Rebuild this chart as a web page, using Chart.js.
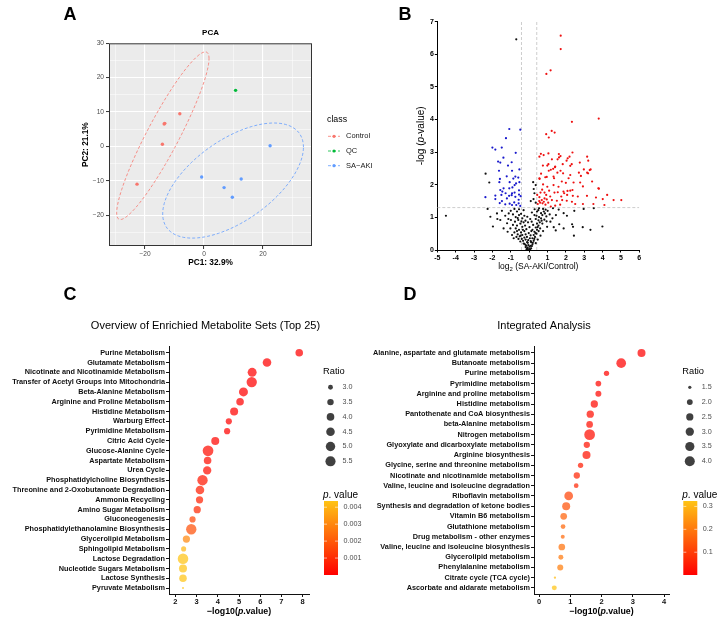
<!DOCTYPE html>
<html>
<head>
<meta charset="utf-8">
<script src="https://cdn.jsdelivr.net/npm/chart.js@4.4.1/dist/chart.umd.min.js"></script>
<style>
  html, body { margin: 0; padding: 0; background: #fff; }
  body { width: 725px; height: 624px; position: relative; overflow: hidden; }
  canvas { position: absolute; }
</style>
</head>
<body>
<canvas id="pca" width="390" height="275" style="left:0;top:0"></canvas>
<canvas id="volcano" width="335" height="275" style="left:390px;top:0"></canvas>
<canvas id="msea" width="372" height="344" style="left:0;top:280px"></canvas>
<canvas id="integ" width="357" height="344" style="left:368px;top:280px"></canvas>
<script>
// -------------------------------
// Data
// -------------------------------

// A: PCA scores
const controlX = [-22.7, -14.1, -13.5, -13.3, -8.2];
const controlY = [-11.0, 0.6, 6.5, 6.7, 9.5];
const qcX = [10.7];
const qcY = [16.3];
const sakiX = [-0.8, 6.8, 9.6, 12.6, 22.4];
const sakiY = [-8.9, -12.0, -14.8, -9.5, 0.2];
// ellipse: centre x, centre y, half range x, half range y, tilt
const controlEllipse = [-13.95, 3.1, 15.65, 24.4, 0.92];
const sakiEllipse = [9.85, -9.95, 23.85, 16.75, 0.58];
const pcaClasses = ["Control", "QC", "SA\u2212AKI"];
const pcaXGrid = [-30, -20, -10, 0, 10, 20, 30];
const pcaXLabels = [-20, 0, 20];
const pcaYGrid = [-25, -20, -15, -10, -5, 0, 5, 10, 15, 20, 25, 30];
const pcaYLabels = [-20, -10, 0, 10, 20, 30];

// B: volcano
const upX = [1.72, 1.72, 1.17, 0.94, 2.33, 3.79, 1.23, 1.39, 0.93, 1.07,
  0.64, 0.56, 1.05, 1.62, 1.71, 2.36, 3.16, 2.20, 2.04, 1.24, 2.76, 3.22,
  0.75, 1.05, 1.42, 1.31, 1.07, 1.54, 1.71, 2.24, 1.85, 2.24, 2.98, 3.30, 3.16, 2.71, 3.43, 2.78, 0.65, 0.56, 0.96, 1.33, 1.78, 2.00, 2.42, 2.82,
  0.76, 0.99, 1.33, 1.60, 1.87, 2.09, 2.24, 2.36, 0.71, 0.84, 1.09, 1.38, 1.56, 3.80, 4.25, 4.01, 4.60, 5.02, 3.64, 3.15, 2.65, 2.38, 1.91,
  0.44, 0.56, 0.69, 0.80, 0.96, 0.60, 0.73, 0.89, 1.04, 1.24, 1.51, 1.80, 2.05, 2.33, 2.51, 2.93, 3.50, 4.10, 1.18, 1.42, 1.69, 0.47, 0.55, 0.84, 1.15, 2.07, 1.75, 0.93, 0.62,
  0.79, 1.63, 1.55, 2.10, 1.83, 2.32, 0.99, 1.41, 1.18, 3.35, 3.21, 0.88, 1.36, 2.15, 0.57, 2.93, 3.77];
const upY = [6.57, 6.16, 5.51, 5.40, 3.93, 4.03, 3.65, 3.60, 3.55, 3.45,
  2.95, 2.86, 2.96, 2.94, 2.88, 2.99, 2.86, 2.86, 2.74, 2.78, 2.68, 2.74,
  2.59, 2.63, 2.56, 2.49, 2.43, 2.37, 2.43, 2.58, 2.35, 2.30, 2.47, 2.45, 2.37, 2.37, 2.10, 2.07, 2.34, 2.20, 2.24, 2.25, 2.10, 2.06, 2.07, 2.27,
  2.01, 1.94, 1.99, 1.94, 1.79, 1.81, 1.82, 1.84, 1.85, 1.76, 1.82, 1.76, 1.77, 1.88, 1.69, 1.56, 1.53, 1.53, 1.61, 1.66, 1.64, 1.66, 1.74,
  1.69, 1.62, 1.53, 1.48, 1.55, 1.45, 1.43, 1.39, 1.45, 1.53, 1.51, 1.53, 1.51, 1.48, 1.41, 1.41, 1.41, 1.38, 1.33, 1.36, 1.39, 1.41, 1.50, 1.58, 1.64, 1.69, 1.64, 1.69, 1.76,
  2.91, 2.84, 2.78, 2.81, 2.63, 2.63, 2.59, 2.54, 2.46, 2.47, 2.35, 2.23, 2.20, 2.20, 2.18, 1.95, 1.89];
const downX = [-1.08, -0.48, -1.26, -2.00, -1.84, -1.49, -0.73, -1.40, -1.69, -1.57, -0.95, -1.15, -0.93, -0.53, -1.64,
  -0.59, -0.75, -0.86, -1.22, -1.59, -1.62, -1.06, -0.71, -0.53, -0.91, -1.08, -0.79, -1.39, -1.46, -1.28, -0.93,
  -0.55, -0.79, -1.57, -1.84, -2.38, -1.51, -1.09, -0.95, -0.75, -0.55, -0.46, -1.84, -1.48, -1.21, -0.81, -0.70,
  -0.57, -0.93, -1.30, -0.48, -1.06, -1.60, -0.57];
const downY = [3.71, 3.69, 3.43, 3.14, 3.08, 3.14, 2.98, 2.83, 2.71, 2.68, 2.69, 2.59, 2.43, 2.47, 2.43,
  2.22, 2.25, 2.19, 2.26, 2.18, 2.08, 2.08, 2.04, 2.08, 1.92, 1.89, 1.99, 1.89, 1.79, 1.74, 1.74,
  1.83, 1.76, 1.84, 1.67, 1.62, 1.69, 1.66, 1.68, 1.63, 1.70, 1.65, 1.56, 1.50, 1.58, 1.46, 1.38,
  1.43, 1.38, 1.40, 1.35, 1.42, 1.44, 1.54];
const nsX = [-0.70, -2.37, -2.17, 0.22, 0.29, 0.24, 0.36, 0.09, 0.36, 0.25,
  -4.53, -2.26, -1.73, -1.97, -1.57, -1.13, -2.11,
  -0.80, -0.66, -0.88, -0.55, -0.73, -0.44, -0.99, -0.77, -0.59, -0.37, -0.26, -0.88, -0.66, -0.48, -0.30, -0.73, -0.55, -0.37, -0.22, -0.80, -0.62,
  -0.44, -0.26, -0.69, -0.51, -0.37, -0.19, -0.58, -0.40, -0.26, -0.48, -0.33, -0.19, -0.26, -0.11, -0.15, -0.08, 0.00, -0.11, -0.19, -0.04, -0.08,
  -1.11, -1.20, -1.39, -1.02, -0.93, -1.17, -1.30, -1.48, -1.75,
  0.11, 0.07, 0.18, 0.11, 0.25, 0.18, 0.32, 0.25, 0.40, 0.29, 0.43, 0.36, 0.51, 0.43, 0.58, 0.51, 0.65, 0.54, 0.72, 0.65, 0.80, 0.90, 0.76, 1.01,
  1.12, 0.94, 0.83, 0.72, 0.18, 0.22, 0.14, 0.36, 0.29, 0.43, 0.54, 1.16, 1.27, 0.98, 0.76, 0.62, 0.47, 0.36,
  1.46, 1.88, 1.64, 1.34, 2.34, 2.39, 2.44, 2.92, 3.34, 3.99, 2.46, 2.06, 1.61, 1.30, 1.88, 1.45, 2.97, 3.52,
  -0.12, -0.05, 0.04, 0.08, -0.02, 0.12, -0.15, 0.02, -0.06, 0.06, -0.10, 0.15, -0.30, -0.55, -0.62, -0.42, -0.34, -0.46, -0.30, -0.20, 0.03,
  0.15, 0.20, 0.28, 0.34, 0.46, 0.52, 0.60, 0.68, 0.86, 0.95, 0.40, 0.50, 0.30, -0.20, -0.66, -0.84, -1.00, -0.14, 0.05, 0.09, -0.07];
const nsY = [6.46, 2.34, 2.07, 2.08, 1.74, 1.56, 1.45, 1.50, 1.99, 1.87,
  1.05, 1.26, 0.95, 0.72, 0.92, 0.95, 1.02,
  1.26, 1.18, 1.09, 1.07, 1.01, 1.11, 0.92, 0.87, 0.92, 0.97, 1.05, 0.77, 0.75, 0.81, 0.85, 0.66, 0.62, 0.71, 0.75, 0.54, 0.48,
  0.54, 0.58, 0.40, 0.42, 0.46, 0.48, 0.34, 0.34, 0.38, 0.26, 0.28, 0.32, 0.19, 0.24, 0.13, 0.07, 0.03, 0.05, 0.09, 0.15, 0.01,
  1.12, 0.82, 0.66, 0.66, 0.46, 0.56, 1.05, 1.20, 1.12,
  0.05, 0.13, 0.17, 0.24, 0.28, 0.36, 0.40, 0.46, 0.50, 0.56, 0.62, 0.69, 0.75, 0.81, 0.85, 0.91, 0.97, 1.01, 1.07, 1.13, 1.18, 1.24, 1.26, 1.20,
  1.09, 1.03, 0.93, 0.81, 0.62, 0.77, 0.87, 0.95, 1.07, 1.18, 1.28, 0.87, 0.97, 0.71, 0.58, 0.44, 0.32, 0.21,
  1.07, 1.13, 0.79, 0.70, 0.79, 0.71, 0.44, 0.70, 0.62, 0.72, 1.20, 1.05, 1.24, 1.28, 0.66, 0.60, 1.26, 1.28,
  0.40, 0.30, 0.36, 0.45, 0.52, 0.58, 0.64, 0.70, 0.85, 0.95, 1.02, 1.15, 1.22, 1.25, 0.98, 0.88, 0.62, 0.44, 0.20, 0.16, 0.10,
  0.12, 0.22, 0.34, 0.52, 0.70, 0.58, 0.66, 0.90, 1.12, 0.88, 1.05, 1.22, 1.25, 0.90, 0.58, 0.36, 1.20, 0.02, 0.02, 0.27, 0.22];
const fcCut = [-0.415, 0.415];
const pCut = 1.301;
const volXTicks = [-5, -4, -3, -2, -1, 0, 1, 2, 3, 4, 5, 6];
const volYTicks = [0, 1, 2, 3, 4, 5, 6, 7];

// C: enriched metabolite sets
const cSets = ["Purine Metabolism", "Glutamate Metabolism", "Nicotinate and Nicotinamide Metabolism",
  "Transfer of Acetyl Groups into Mitochondria", "Beta-Alanine Metabolism", "Arginine and Proline Metabolism",
  "Histidine Metabolism", "Warburg Effect", "Pyrimidine Metabolism", "Citric Acid Cycle", "Glucose-Alanine Cycle",
  "Aspartate Metabolism", "Urea Cycle", "Phosphatidylcholine Biosynthesis", "Threonine and 2-Oxobutanoate Degradation",
  "Ammonia Recycling", "Amino Sugar Metabolism", "Gluconeogenesis", "Phosphatidylethanolamine Biosynthesis",
  "Glycerolipid Metabolism", "Sphingolipid Metabolism", "Lactose Degradation", "Nucleotide Sugars Metabolism",
  "Lactose Synthesis", "Pyruvate Metabolism"];
const cLogP = [7.84, 6.32, 5.62, 5.60, 5.21, 5.05, 4.77, 4.52, 4.44, 3.88, 3.54, 3.52, 3.50,
  3.28, 3.16, 3.14, 3.03, 2.81, 2.75, 2.52, 2.39, 2.36, 2.36, 2.36, 2.36];
const cRatio = [3.98, 4.53, 4.75, 5.65, 4.75, 3.98, 4.20, 3.40, 3.40, 4.20, 5.90, 3.98, 4.35,
  5.65, 4.53, 3.83, 3.83, 3.40, 5.65, 3.83, 3.07, 5.80, 4.20, 3.98, 2.65];
const cXTicks = [2, 3, 4, 5, 6, 7, 8];
const cRatioKeys = [3.0, 3.5, 4.0, 4.5, 5.0, 5.5];
const cPKeys = [0.001, 0.002, 0.003, 0.004];

// D: integrated analysis
const dSets = ["Alanine, aspartate and glutamate metabolism", "Butanoate metabolism", "Purine metabolism",
  "Pyrimidine metabolism", "Arginine and proline metabolism", "Histidine metabolism",
  "Pantothenate and CoA biosynthesis", "beta-Alanine metabolism", "Nitrogen metabolism",
  "Glyoxylate and dicarboxylate metabolism", "Arginine biosynthesis", "Glycine, serine and threonine metabolism",
  "Nicotinate and nicotinamide metabolism", "Valine, leucine and isoleucine degradation", "Riboflavin metabolism",
  "Synthesis and degradation of ketone bodies", "Vitamin B6 metabolism", "Glutathione metabolism",
  "Drug metabolism - other enzymes", "Valine, leucine and isoleucine biosynthesis", "Glycerolipid metabolism",
  "Phenylalanine metabolism", "Citrate cycle (TCA cycle)", "Ascorbate and aldarate metabolism"];
const dLogP = [3.28, 2.63, 2.16, 1.90, 1.90, 1.77, 1.64, 1.62, 1.62, 1.53, 1.52, 1.33,
  1.21, 1.19, 0.95, 0.87, 0.79, 0.77, 0.76, 0.73, 0.70, 0.68, 0.51, 0.49];
const dRatio = [2.86, 3.81, 1.85, 1.96, 2.05, 2.53, 2.53, 2.29, 4.49, 2.15, 2.86, 1.85,
  2.15, 1.71, 3.22, 2.86, 2.29, 1.71, 1.58, 2.29, 1.77, 2.05, 1.46, 1.77];
const dXTicks = [0, 1, 2, 3, 4];
const dRatioKeys = [1.5, 2.0, 2.5, 3.0, 3.5, 4.0];
const dPKeys = [0.1, 0.2, 0.3];

// -------------------------------
// Shared helpers
// -------------------------------
const FONT = "'Liberation Sans', Arial, Helvetica, sans-serif";
Chart.defaults.font.family = FONT;

const PCA_COLORS = ["#F8766D", "#00BA38", "#619CFF"];
const P_LOW = [255, 0, 0];
const P_HIGH = [255, 196, 20];

function fmtMinus(v) {
  return v < 0 ? "\u2212" + Math.abs(v) : String(v);
}

function xy(xs, ys) {
  return xs.map((x, i) => ({ x, y: ys[i] }));
}

function ellipsePoints(e) {
  const [cx, cy, ax, ay, rho] = e;
  const pts = [];
  for (let i = 0; i <= 120; i++) {
    const t = (i / 120) * 2 * Math.PI;
    pts.push({
      x: cx + ax * Math.cos(t),
      y: cy + ay * (rho * Math.cos(t) + Math.sqrt(1 - rho * rho) * Math.sin(t)),
    });
  }
  return pts;
}

function pColor(p, lo, hi, alpha) {
  const t = Math.min(1, Math.max(0, (p - lo) / (hi - lo)));
  const c = P_LOW.map((l, k) => Math.round(l + (P_HIGH[k] - l) * t));
  return `rgba(${c[0]},${c[1]},${c[2]},${alpha})`;
}

function sizeScale(vals, dMin, dMax) {
  const lo = Math.min(...vals), hi = Math.max(...vals);
  return (v) => (dMin + (dMax - dMin) * Math.sqrt(Math.max(0, (v - lo) / (hi - lo)))) / 2;
}

function text(ctx, s, x, y, font, color, align, rot) {
  ctx.save();
  ctx.translate(x, y);
  if (rot) ctx.rotate(rot);
  ctx.font = font;
  ctx.fillStyle = color || "#000";
  ctx.textAlign = align || "center";
  ctx.textBaseline = "middle";
  ctx.fillText(s, 0, 0);
  ctx.restore();
}

// parts: [text, italic, sizeScale, dy]
function richText(ctx, parts, x, y, size, weight, rot, align) {
  ctx.save();
  ctx.translate(x, y);
  if (rot) ctx.rotate(rot);
  ctx.textBaseline = "middle";
  ctx.textAlign = "left";
  ctx.fillStyle = "#000";
  const fonts = parts.map((p) => `${p[1] ? "italic " : ""}${weight} ${size * (p[2] || 1)}px ${FONT}`);
  let total = 0;
  const widths = parts.map((p, i) => {
    ctx.font = fonts[i];
    const w = ctx.measureText(p[0]).width;
    total += w;
    return w;
  });
  let cx = align === "left" ? 0 : -total / 2;
  parts.forEach((p, i) => {
    ctx.font = fonts[i];
    ctx.fillText(p[0], cx, p[3] || 0);
    cx += widths[i];
  });
  ctx.restore();
}

function fixedAxis(size, horizontal) {
  return (s) => {
    if (horizontal) s.height = size;
    else s.width = size;
    s.paddingLeft = 0;
    s.paddingRight = 0;
    s.paddingTop = 0;
    s.paddingBottom = 0;
  };
}

function setTicks(vals) {
  return (s) => {
    s.ticks = vals.map((v) => ({ value: v }));
  };
}

// -------------------------------
// A: PCA
// -------------------------------
const pcaExtras = {
  id: "pcaExtras",
  beforeDraw(chart) {
    const { ctx, chartArea: a } = chart;
    ctx.save();
    ctx.fillStyle = "#EBEBEB";
    ctx.fillRect(a.left, a.top, a.right - a.left, a.bottom - a.top);
    ctx.restore();
  },
  afterDraw(chart) {
    const { ctx, chartArea: a } = chart;
    ctx.save();
    ctx.strokeStyle = "#333";
    ctx.lineWidth = 1;
    ctx.strokeRect(a.left + 0.5, a.top + 0.5, a.right - a.left - 1, a.bottom - a.top - 1);
    ctx.restore();
    const cx = (a.left + a.right) / 2, cy = (a.top + a.bottom) / 2;
    text(ctx, "A", 70, 15, `bold 18px ${FONT}`, "#000");
    text(ctx, "PCA", cx, 33, `bold 8px ${FONT}`, "#000");
    text(ctx, "PC1: 32.9%", cx, 263, `bold 8.3px ${FONT}`, "#000");
    text(ctx, "PC2: 21.1%", 86, cy, `bold 8.3px ${FONT}`, "#000", "center", -Math.PI / 2);
    // legend
    text(ctx, "class", 327, 120, `8.8px ${FONT}`, "#000", "left");
    pcaClasses.forEach((name, i) => {
      const y = 136.3 + i * 14.7;
      ctx.save();
      ctx.strokeStyle = PCA_COLORS[i];
      ctx.lineWidth = 0.8;
      ctx.setLineDash([3, 2]);
      ctx.beginPath();
      ctx.moveTo(328, y);
      ctx.lineTo(340, y);
      ctx.stroke();
      ctx.fillStyle = PCA_COLORS[i];
      ctx.beginPath();
      ctx.arc(334, y, 1.6, 0, 2 * Math.PI);
      ctx.fill();
      ctx.restore();
      text(ctx, name, 346, y, `7.5px ${FONT}`, "#1A1A1A", "left");
    });
  },
};

function pcaAxisGrid(labels) {
  return {
    color: "#FFFFFF",
    lineWidth: (c) => (c.tick && labels.includes(c.tick.value) ? 1.1 : 0.5),
    tickColor: (c) => (c.tick && labels.includes(c.tick.value) ? "#333" : "rgba(0,0,0,0)"),
    tickLength: 3,
    tickWidth: 1,
  };
}

new Chart(document.getElementById("pca"), {
  type: "scatter",
  data: {
    datasets: [
      { data: xy(controlX, controlY), backgroundColor: PCA_COLORS[0], pointRadius: 1.7, borderWidth: 0 },
      { data: xy(qcX, qcY), backgroundColor: PCA_COLORS[1], pointRadius: 1.7, borderWidth: 0 },
      { data: xy(sakiX, sakiY), backgroundColor: PCA_COLORS[2], pointRadius: 1.7, borderWidth: 0 },
      { type: "line", data: ellipsePoints(controlEllipse), borderColor: PCA_COLORS[0], borderWidth: 0.8,
        borderDash: [3, 2], pointRadius: 0, fill: false, tension: 0, order: 10 },
      { type: "line", data: ellipsePoints(sakiEllipse), borderColor: PCA_COLORS[2], borderWidth: 0.8,
        borderDash: [3, 2], pointRadius: 0, fill: false, tension: 0, order: 10 },
    ],
  },
  options: {
    responsive: false,
    animation: false,
    events: [],
    layout: { padding: { top: 43.3, right: 78, bottom: 0, left: 0 } },
    plugins: { legend: { display: false }, tooltip: { enabled: false } },
    scales: {
      x: {
        type: "linear", min: -32.2, max: 36.6,
        afterBuildTicks: setTicks(pcaXGrid),
        afterFit: fixedAxis(29, true),
        ticks: { callback: (v) => (pcaXLabels.includes(v) ? fmtMinus(v) : ""), font: { size: 6.6 },
          color: "#4D4D4D", padding: 1, maxRotation: 0, autoSkip: false },
        grid: pcaAxisGrid(pcaXLabels),
        border: { display: false },
      },
      y: {
        type: "linear", min: -29, max: 30,
        afterBuildTicks: setTicks(pcaYGrid),
        afterFit: fixedAxis(109, false),
        ticks: { callback: (v) => (pcaYLabels.includes(v) ? fmtMinus(v) : ""), font: { size: 6.6 },
          color: "#4D4D4D", padding: 2, autoSkip: false },
        grid: pcaAxisGrid(pcaYLabels),
        border: { display: false },
      },
    },
  },
  plugins: [pcaExtras],
});

// -------------------------------
// B: Volcano plot
// -------------------------------
const volcanoExtras = {
  id: "volcanoExtras",
  afterDraw(chart) {
    const { ctx, chartArea: a } = chart;
    text(ctx, "B", 15, 15, `bold 18px ${FONT}`, "#000");
    richText(ctx, [["log", false], ["2", false, 0.7, 2.5], [" (SA-AKI/Control)", false]],
      (a.left + a.right) / 2, 267, 8.5, "normal");
    richText(ctx, [["-log (", false], ["p", true], ["-value)", false]],
      31.7, (a.top + a.bottom) / 2, 10, "normal", -Math.PI / 2);
  },
};

const volAxis = (ticks, fixed, horizontal, pad) => ({
  type: "linear",
  min: ticks[0],
  max: ticks[ticks.length - 1],
  afterBuildTicks: setTicks(ticks),
  afterFit: fixedAxis(fixed, horizontal),
  ticks: { callback: (v) => String(v), font: { size: 7, weight: "bold" }, color: "#000", padding: pad,
    maxRotation: 0, autoSkip: false },
  grid: { drawOnChartArea: false, tickColor: "#000", tickLength: 2.5, tickWidth: 1 },
  border: { display: true, color: "#000", width: 1 },
});

const cutLine = (pts) => ({
  type: "line", data: pts, borderColor: "#C8C8C8", borderWidth: 0.9, borderDash: [3, 2],
  pointRadius: 0, fill: false, order: 10,
});

new Chart(document.getElementById("volcano"), {
  type: "scatter",
  data: {
    datasets: [
      { data: xy(nsX, nsY), backgroundColor: "#111111", pointRadius: 1.1, borderWidth: 0 },
      { data: xy(upX, upY), backgroundColor: "#EE1111", pointRadius: 1.1, borderWidth: 0 },
      { data: xy(downX, downY), backgroundColor: "#1A1ACC", pointRadius: 1.1, borderWidth: 0 },
      cutLine([{ x: fcCut[0], y: volYTicks[0] }, { x: fcCut[0], y: volYTicks[volYTicks.length - 1] }]),
      cutLine([{ x: fcCut[1], y: volYTicks[0] }, { x: fcCut[1], y: volYTicks[volYTicks.length - 1] }]),
      cutLine([{ x: volXTicks[0], y: pCut }, { x: volXTicks[volXTicks.length - 1], y: pCut }]),
    ],
  },
  options: {
    responsive: false,
    animation: false,
    events: [],
    layout: { padding: { top: 21.7, right: 85.7, bottom: 0, left: 0 } },
    plugins: { legend: { display: false }, tooltip: { enabled: false } },
    scales: {
      x: volAxis(volXTicks, 25, true, 1),
      y: volAxis(volYTicks, 47.3, false, 1),
    },
  },
  plugins: [volcanoExtras],
});

// -------------------------------
// C / D: enrichment bubble charts
// -------------------------------
function bubbleExtras(cfg) {
  return {
    id: "bubbleExtras",
    afterDraw(chart) {
      const { ctx, chartArea: a } = chart;
      text(ctx, cfg.letter, cfg.letterX, 15, `bold 18px ${FONT}`, "#000");
      text(ctx, cfg.title, cfg.titleX, 46, `11px ${FONT}`, "#000");
      richText(ctx, [["\u2212log10(", false], ["p", true], [".value)", false]],
        (a.left + a.right) / 2, 331.7, 8.8, "bold");
      // size legend
      text(ctx, "Ratio", cfg.legX, 91.7, `9.3px ${FONT}`, "#000", "left");
      cfg.ratioKeys.forEach((v, i) => {
        const y = 107.3 + i * 14.8;
        ctx.save();
        ctx.fillStyle = "rgba(0,0,0,0.75)";
        ctx.beginPath();
        ctx.arc(cfg.legX + 7.5, y, cfg.radius(v), 0, 2 * Math.PI);
        ctx.fill();
        ctx.restore();
        text(ctx, v.toFixed(1), cfg.legX + 19.5, y, `7.2px ${FONT}`, "#4D4D4D", "left");
      });
      // colour bar
      richText(ctx, [["p", true], [". value", false]], cfg.legX, 215, 10, "normal", 0, "left");
      const top = 221, bottom = 295, left = cfg.legX + 1, w = 14;
      ctx.save();
      const g = ctx.createLinearGradient(0, bottom, 0, top);
      g.addColorStop(0, pColor(cfg.pLo, cfg.pLo, cfg.pHi, 1));
      g.addColorStop(1, pColor(cfg.pHi, cfg.pLo, cfg.pHi, 1));
      ctx.fillStyle = g;
      ctx.fillRect(left, top, w, bottom - top);
      cfg.pKeys.forEach((v) => {
        const y = bottom - ((v - cfg.pLo) / (cfg.pHi - cfg.pLo)) * (bottom - top);
        ctx.strokeStyle = "#fff";
        ctx.lineWidth = 0.6;
        ctx.beginPath();
        ctx.moveTo(left, y); ctx.lineTo(left + 3, y);
        ctx.moveTo(left + w - 3, y); ctx.lineTo(left + w, y);
        ctx.stroke();
        text(ctx, String(v), left + w + 5.5, y, `7.2px ${FONT}`, "#4D4D4D", "left");
      });
      ctx.restore();
    },
  };
}

function bubbleChart(id, sets, logP, ratio, xTicks, xMin, xMax, yWidth, padRight, dMin, dMax, extra) {
  const pVals = logP.map((v) => Math.pow(10, -v));
  const pLo = Math.min(...pVals), pHi = Math.max(...pVals);
  const radius = sizeScale(ratio, dMin, dMax);
  Object.assign(extra, { radius, pLo, pHi });
  return new Chart(document.getElementById(id), {
    type: "bubble",
    data: {
      datasets: [{
        data: logP.map((x, i) => ({ x, y: i, r: radius(ratio[i]) })),
        backgroundColor: pVals.map((p) => pColor(p, pLo, pHi, 0.72)),
        borderWidth: 0,
        hoverRadius: 0,
      }],
    },
    options: {
      responsive: false,
      animation: false,
      events: [],
      layout: { padding: { top: 66.8, right: padRight, bottom: 0, left: 0 } },
      plugins: { legend: { display: false }, tooltip: { enabled: false } },
      scales: {
        x: {
          type: "linear", min: xMin, max: xMax,
          afterBuildTicks: setTicks(xTicks),
          afterFit: fixedAxis(30, true),
          ticks: { callback: (v) => String(v), font: { size: 7.5, weight: "bold" }, color: "#111",
            padding: 0.5, maxRotation: 0, autoSkip: false },
          grid: { drawOnChartArea: false, tickColor: "#111", tickLength: 3, tickWidth: 1 },
          border: { display: true, color: "#111", width: 1 },
        },
        y: {
          type: "linear", min: -0.6, max: sets.length - 0.4, reverse: true,
          afterBuildTicks: setTicks(sets.map((s, i) => i)),
          afterFit: fixedAxis(yWidth, false),
          ticks: { callback: (v) => sets[v] || "", font: { size: 7.3, weight: "bold" }, color: "#111",
            padding: 1, autoSkip: false },
          grid: { drawOnChartArea: false, tickColor: "#111", tickLength: 3, tickWidth: 1 },
          border: { display: true, color: "#111", width: 1 },
        },
      },
    },
    plugins: [bubbleExtras(extra)],
  });
}

bubbleChart("msea", cSets, cLogP, cRatio, cXTicks, 1.7, 8.3, 169, 63, 2, 10.7, {
  letter: "C", letterX: 70, title: "Overview of Enrichied Metabolite Sets (Top 25)", titleX: 205.5,
  legX: 323, ratioKeys: cRatioKeys, pKeys: cPKeys,
});

bubbleChart("integ", dSets, dLogP, dRatio, dXTicks, -0.16, 4.16, 166, 56, 2.3, 10.7, {
  letter: "D", letterX: 42, title: "Integrated Analysis", titleX: 176,
  legX: 314.3, ratioKeys: dRatioKeys, pKeys: dPKeys,
});
</script>
</body>
</html>
